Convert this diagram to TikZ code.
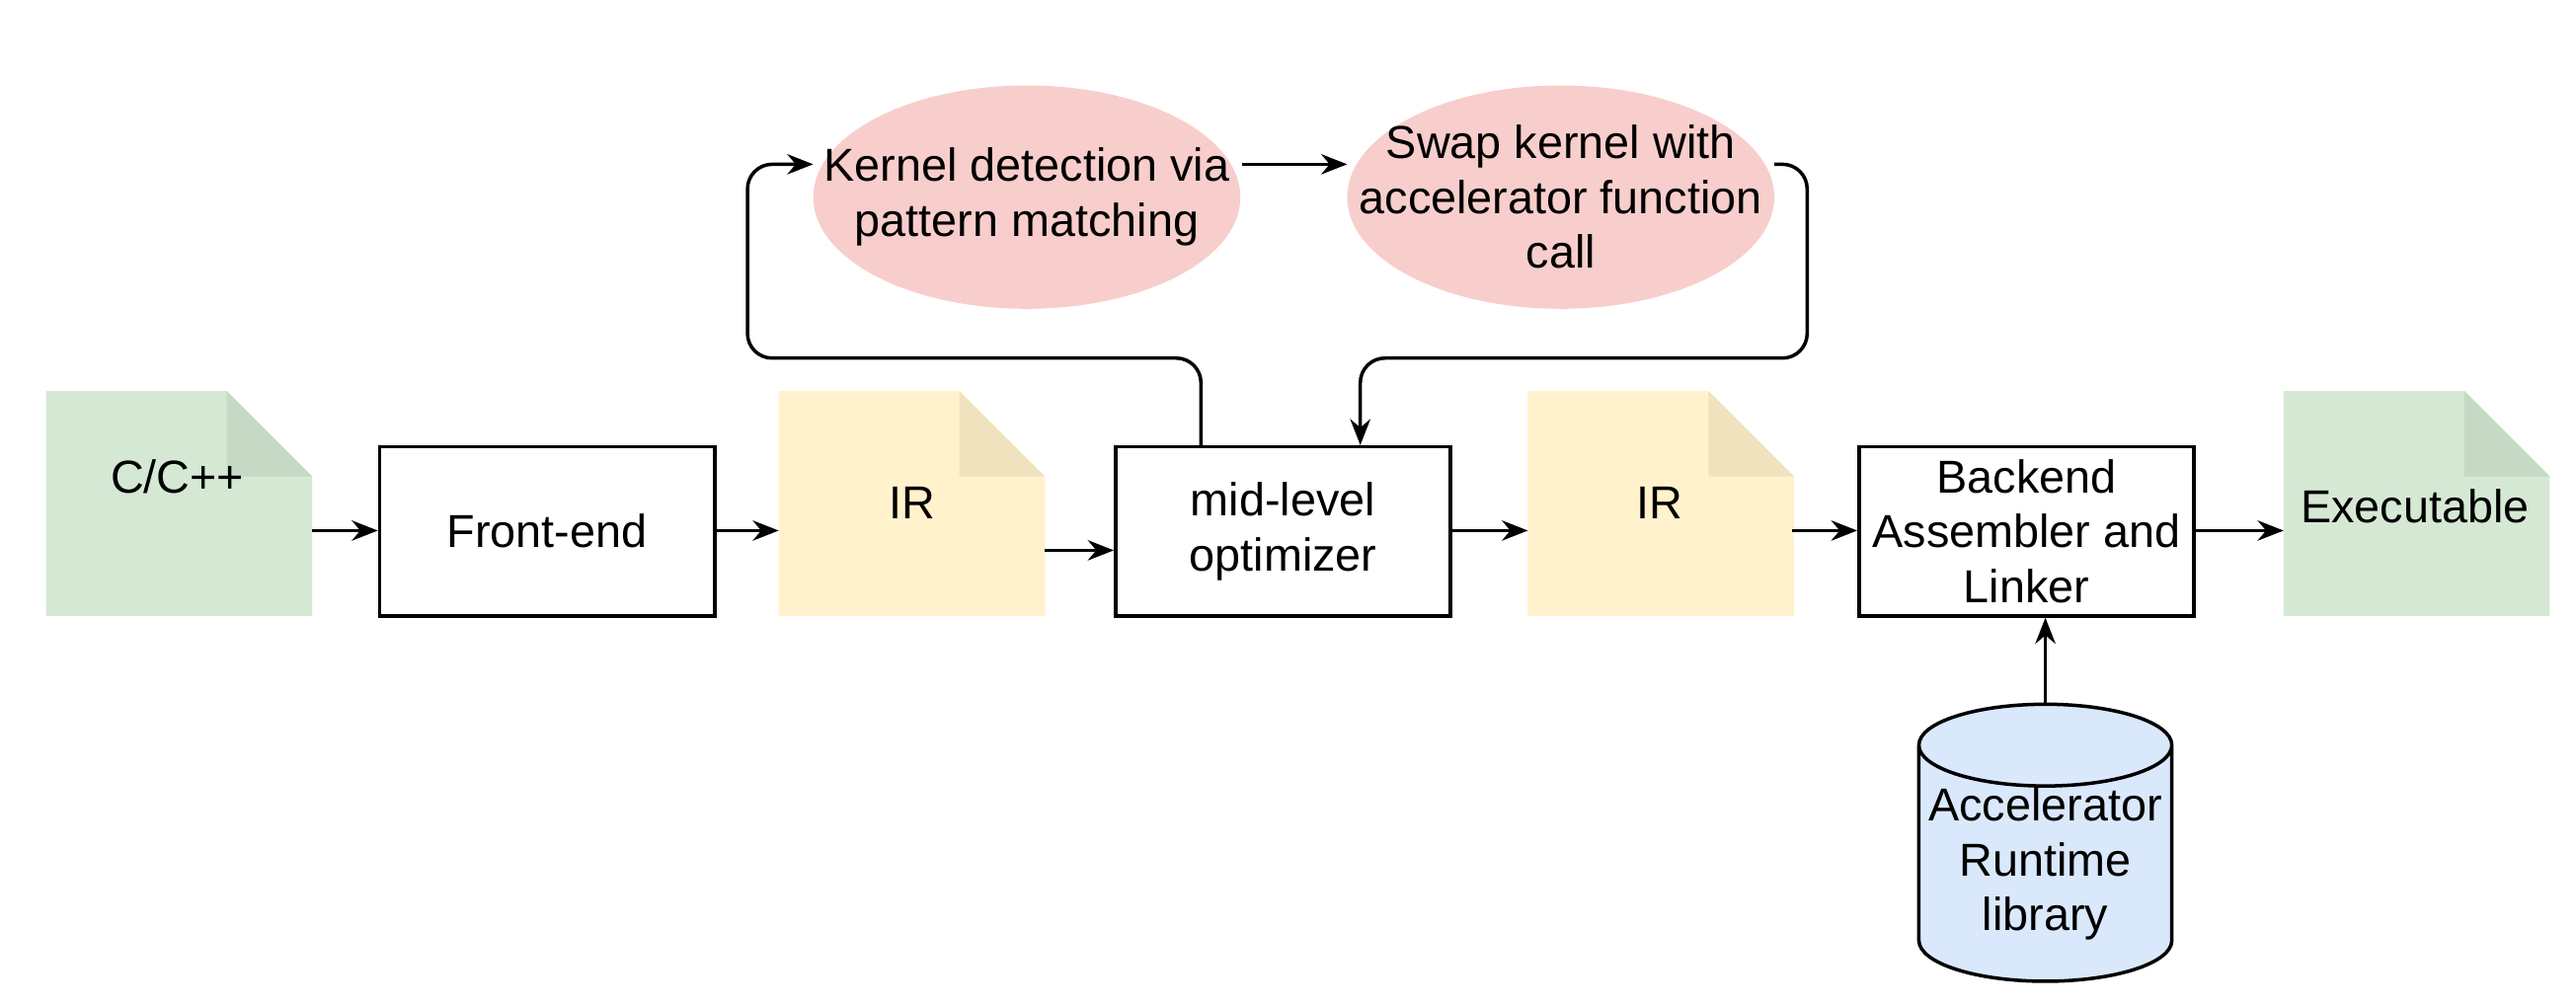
\documentclass[tikz,border=0pt]{standalone}
\usepackage{fontspec}
\setmainfont{Liberation Sans}
\usetikzlibrary{arrows.meta,shapes.geometric}
\definecolor{docgreen}{HTML}{D5E8D4}
\definecolor{foldgreen}{HTML}{C5D9C4}
\definecolor{docyellow}{HTML}{FFF2CC}
\definecolor{foldyellow}{HTML}{EFE2BC}
\definecolor{dbblue}{HTML}{DAE8FC}
\definecolor{passred}{HTML}{F8CECC}
\begin{document}
\begin{tikzpicture}[x=0.02cm, y=-0.02cm, thick,
    every node/.style={font=\fontsize{16}{19}\selectfont, align=center},
    stage/.style={draw, line width=1.2pt, minimum width=4.08cm, minimum height=2.06cm, inner sep=0pt},
    lib/.style={cylinder, shape border rotate=90, aspect=0.35, draw, line width=1.2pt, fill=dbblue,
                minimum width=3.08cm, minimum height=2.7cm, inner sep=0pt},
    flow/.style={-{Stealth[length=9pt,width=7pt]}, line width=1.2pt},
    loop/.style={flow, rounded corners=0.3cm}]

  \useasboundingbox (0,0) rectangle (1568,612);

  % documents with folded corner
  \newcommand{\docfile}[4]{%
    \fill[#3] (#1,238) -- (#1+110,238) -- (#1+162,290) -- (#1+162,375) -- (#1,375) -- cycle;
    \fill[#4] (#1+110,238) -- (#1+162,290) -- (#1+110,290) -- cycle;
    \node (#2) at (#1+81,306.5) {};}
  \docfile{28}{src}{docgreen}{foldgreen}
  \docfile{474}{ir1}{docyellow}{foldyellow}
  \docfile{930}{ir2}{docyellow}{foldyellow}
  \docfile{1390}{exe}{docgreen}{foldgreen}
  \node at (108,290) {C/C++};
  \node at (555,306) {IR};
  \node at (1010,306) {IR};
  \node at (1470,308) {Executable};

  \node[stage] (fe) at (333,323.5) {Front-end};
  \node[stage] (mid) at (781,323.5) {mid-level\\optimizer};
  \node[stage] (be) at (1233.5,323.5) {Backend\\Assembler and\\Linker};
  \node[lib] (rt) at (1245,526) {Accelerator\\Runtime\\library};

  % optimizer passes
  \fill[passred] (625,120) ellipse [x radius=130, y radius=68];
  \fill[passred] (950,120) ellipse [x radius=130, y radius=68];
  \node (kd) at (625,120) {Kernel detection via\\pattern matching};
  \node (sw) at (950,120) {Swap kernel with\\accelerator function\\call};
  \coordinate (kdin) at (495,100);
  \coordinate (kdout) at (756,100);
  \coordinate (swin) at (820,100);
  \coordinate (swout) at (1080,100);

  \draw[flow] (190,323) -- (fe.west |- 0,323);
  \draw[flow] (fe.east |- 0,323) -- (474,323);
  \draw[flow] (636,335) -- (mid.west |- 0,335);
  \draw[flow] (mid.east |- 0,323) -- (930,323);
  \draw[flow] (1091,323) -- (be.west |- 0,323);
  \draw[flow] (be.east |- 0,323) -- (1390,323);
  \draw[flow] (rt.top) -- (be.south -| rt.top);
  \draw[flow] (kdout) -- (swin);
  \draw[loop] (mid.north -| 731,0) -- (731,218) -- (455,218) -- (455,100) -- (kdin);
  \draw[loop] (swout) -- (1100,100) -- (1100,218) -- (828,218) -- (mid.north -| 828,0);
\end{tikzpicture}
\end{document}
